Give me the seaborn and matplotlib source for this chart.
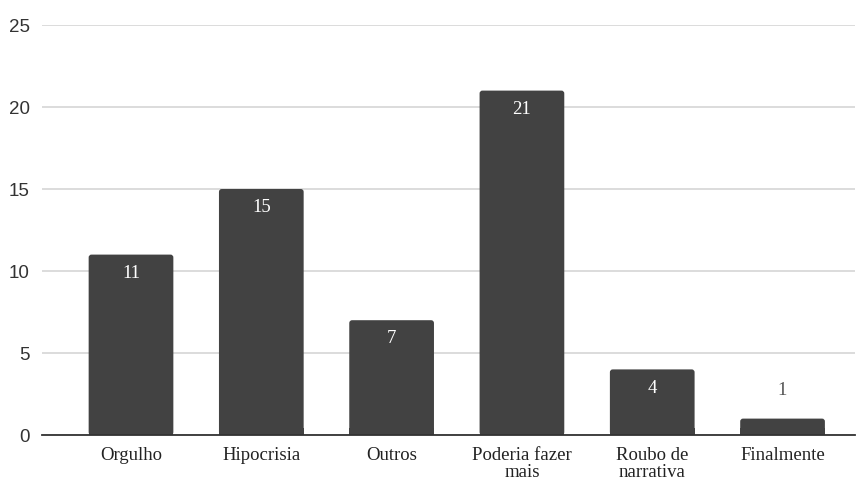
import matplotlib
matplotlib.use("Agg")
import matplotlib.pyplot as plt
import seaborn as sns
import pandas as pd
from matplotlib.patches import FancyBboxPatch

categories = ["Orgulho", "Hipocrisia", "Outros", "Poderia fazer\nmais", "Roubo de\nnarrativa", "Finalmente"]
counts = [11, 15, 7, 21, 4, 1]
y_ticks = [0, 5, 10, 15, 20, 25]

df = pd.DataFrame({"categoria": categories, "total": counts})

sns.set_theme(style="white")
plt.rcParams["font.family"] = ["Liberation Serif", "DejaVu Serif"]

fig = plt.figure(figsize=(8.57, 4.8), dpi=100)
ax = fig.add_axes([42 / 857, 1 - 435 / 480, (855 - 42) / 857, (435 - 25) / 480])

bar_color = "#424242"
sns.barplot(data=df, x="categoria", y="total", color=bar_color, width=0.65,
            saturation=1, ax=ax, zorder=3)

ax.set_xlim(-0.683, 5.556)
ax.set_ylim(0, 25)

# pixels per data unit on each axis, used to keep corner rounding circular
px_x = (855 - 42) / (5.556 + 0.683)
px_y = (435 - 25) / 25
aspect = px_x / px_y

# Replace plain rectangles with bars that have slightly rounded top corners
for patch in list(ax.patches):
    x0, y0 = patch.get_x(), patch.get_y()
    w, h = patch.get_width(), patch.get_height()
    patch.set_visible(False)
    rounded = FancyBboxPatch((x0, y0), w, h,
                             boxstyle="round,pad=0,rounding_size=0.022",
                             mutation_aspect=aspect,
                             facecolor=bar_color, edgecolor="none", zorder=3)
    ax.add_patch(rounded)
    # square off the bottom corners
    ax.add_patch(plt.Rectangle((x0, y0), w, min(h, 0.4), facecolor=bar_color,
                               edgecolor="none", zorder=3))

ax.set_yticks(y_ticks)
ax.set_yticklabels([str(t) for t in y_ticks], family="Liberation Sans",
                   fontsize=13.5, color="#333333")
ax.tick_params(axis="y", length=0, pad=9)
ax.tick_params(axis="x", length=0, pad=9, labelsize=13.5, labelcolor="#222222")
for lbl in ax.get_xticklabels():
    lbl.set_linespacing(0.95)
ax.set_xlabel("")
ax.set_ylabel("")

ax.grid(axis="y", color="#d6d6d6", linewidth=1.2, zorder=0)
ax.grid(axis="x", visible=False)
for side in ["top", "right", "left"]:
    ax.spines[side].set_visible(False)
ax.spines["bottom"].set_color("#333333")
ax.spines["bottom"].set_linewidth(1.3)
ax.spines["bottom"].set_zorder(4)

# Value labels: inside the bar near the top, or above when the bar is too short
for i, v in enumerate(counts):
    if v >= 3:
        ax.annotate(str(v), (i, v), xytext=(0, -13.5), textcoords="offset points",
                    ha="center", va="center", color="white", fontsize=13.5, zorder=5)
    else:
        ax.annotate(str(v), (i, v), xytext=(0, 20), textcoords="offset points",
                    ha="center", va="center", color="#555555", fontsize=13.5, zorder=5)

fig.savefig("out.png", dpi=100, facecolor="white")
